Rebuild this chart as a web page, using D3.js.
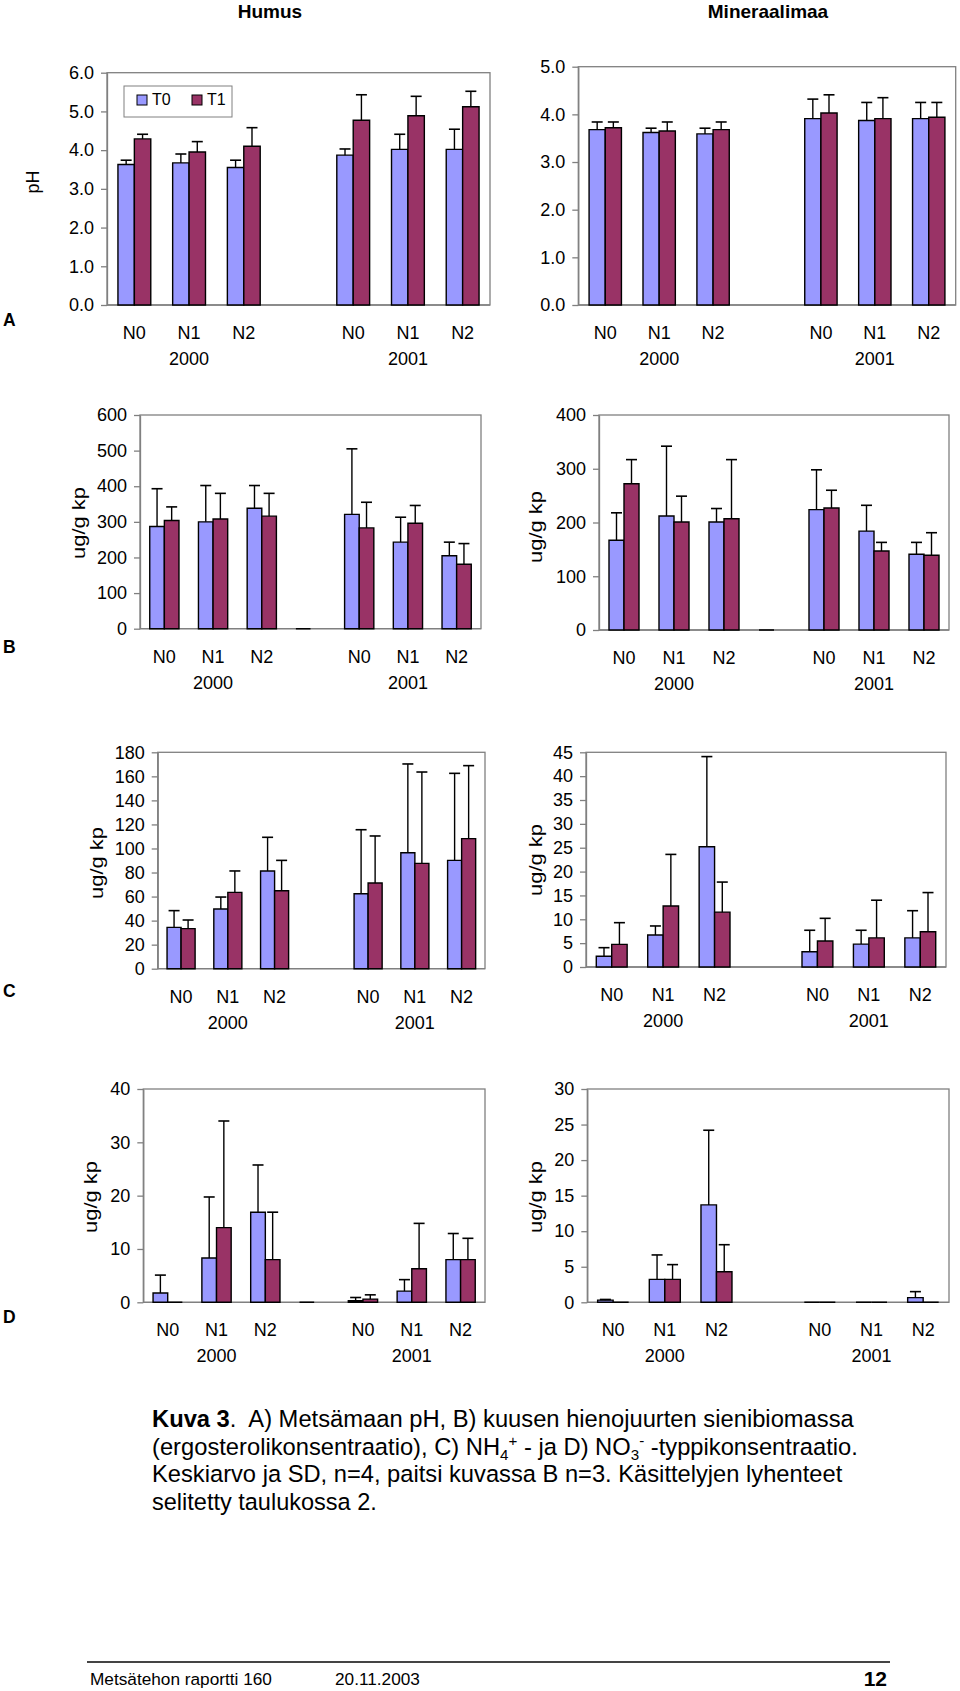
<!DOCTYPE html>
<html>
<head>
<meta charset="utf-8">
<script src="https://cdn.jsdelivr.net/npm/d3@7"></script>
<style>
  html, body { margin: 0; padding: 0; background: #fff; }
  svg { display: block; font-family: "Liberation Sans", Arial, Helvetica, sans-serif; }
  text { white-space: pre; }
</style>
</head>
<body>
<svg id="chart" width="960" height="1691"></svg>
<script>
// ---------------- DATA ----------------
const categories = ["N0", "N1", "N2", "", "N0", "N1", "N2"];
const yearLabels = ["2000", "2001"];
const yearCategoryIndex = [1, 5];
const seriesNames = ["T0", "T1"];

// A) pH - Humus
const phHumusT0   = [3.63, 3.67, 3.55, null, 3.87, 4.02, 4.02];
const phHumusT0sd = [0.11, 0.23, 0.19, null, 0.16, 0.39, 0.52];
const phHumusT1   = [4.29, 3.95, 4.10, null, 4.77, 4.89, 5.12];
const phHumusT1sd = [0.12, 0.27, 0.48, null, 0.66, 0.50, 0.40];
// A) pH - Mineraalimaa
const phMinT0   = [3.68, 3.62, 3.59, null, 3.91, 3.87, 3.91];
const phMinT0sd = [0.16, 0.09, 0.12, null, 0.41, 0.38, 0.34];
const phMinT1   = [3.72, 3.65, 3.68, null, 4.03, 3.91, 3.94];
const phMinT1sd = [0.12, 0.19, 0.16, null, 0.38, 0.44, 0.31];
// B) ergosterol - Humus
const ergHumusT0   = [287, 300, 338, 0, 321, 243, 205];
const ergHumusT0sd = [106, 102, 64, null, 184, 70, 38];
const ergHumusT1   = [304, 308, 316, null, 283, 296, 181];
const ergHumusT1sd = [38, 72, 64, null, 72, 50, 58];
// B) ergosterol - Mineraalimaa
const ergMinT0   = [167, 212, 201, 0, 224, 184, 141];
const ergMinT0sd = [51, 130, 25, null, 74, 48, 22];
const ergMinT1   = [272, 201, 207, null, 227, 147, 139];
const ergMinT1sd = [45, 48, 110, null, 33, 16, 42];
// C) NH4 - Humus
const nh4HumusT0   = [34.4, 49.6, 81.3, null, 62.4, 96.5, 90.1];
const nh4HumusT0sd = [13.9, 10.0, 28.0, null, 53.2, 73.8, 72.4];
const nh4HumusT1   = [33.3, 63.5, 64.9, null, 71.3, 87.6, 108.2];
const nh4HumusT1sd = [7.2, 17.8, 25.2, null, 39.1, 76.0, 60.7];
// C) NH4 - Mineraalimaa
const nh4MinT0   = [2.24, 6.71, 25.2, null, 3.2, 4.8, 6.1];
const nh4MinT0sd = [1.81, 1.89, 18.9, null, 4.5, 2.9, 5.7];
const nh4MinT1   = [4.75, 12.8, 11.5, null, 5.45, 6.1, 7.4];
const nh4MinT1sd = [4.54, 10.8, 6.3, null, 4.75, 7.9, 8.2];
// D) NO3 - Humus
const no3HumusT0   = [1.75, 8.3, 16.9, 0, 0.3, 2.1, 8.0];
const no3HumusT0sd = [3.35, 11.45, 8.85, null, 0.6, 2.15, 4.9];
const no3HumusT1   = [0, 14.0, 8.0, null, 0.6, 6.3, 8.0];
const no3HumusT1sd = [null, 20.0, 8.9, null, 0.8, 8.5, 4.0];
// D) NO3 - Mineraalimaa
const no3MinT0   = [0.3, 3.23, 13.7, null, 0, 0, 0.66];
const no3MinT0sd = [0.1, 3.43, 10.5, null, null, null, 0.84];
const no3MinT1   = [0, 3.23, 4.3, null, 0, 0, 0];
const no3MinT1sd = [null, 2.07, 3.8, null, null, null, null];

// y-axis ranges / tick steps
const yMaxes = { phHumus: 6, phMin: 5, ergHumus: 600, ergMin: 400, nh4Humus: 180, nh4Min: 45, no3Humus: 40, no3Min: 30 };
const yStep  = { phHumus: 1, phMin: 1, ergHumus: 100, ergMin: 100, nh4Humus: 20, nh4Min: 5, no3Humus: 10, no3Min: 5 };

const columnTitles = ["Humus", "Mineraalimaa"];
const rowLetters = ["A", "B", "C", "D"];
const yTitles = { ph: "pH", conc: "ug/g kp" };

// ---------------- LAYOUT ----------------
const COL_T0 = "#9999FF", COL_T1 = "#993366", FRAME = "#808080";
const FONT = '"Liberation Sans", Arial, Helvetica, sans-serif';

const panels = [
  { key: "phHumus",  t0: phHumusT0,  t0sd: phHumusT0sd,  t1: phHumusT1,  t1sd: phHumusT1sd,  x0: 107,   x1: 490,   y0: 72.7,   y1: 305,    fmt: ".1f", ytitle: yTitles.ph,   tx: 33, ty: 182, tw: 23, legend: true },
  { key: "phMin",    t0: phMinT0,    t0sd: phMinT0sd,    t1: phMinT1,    t1sd: phMinT1sd,    x0: 578.3, x1: 955.7, y0: 66.7,   y1: 305,    fmt: ".1f", ytitle: null },
  { key: "ergHumus", t0: ergHumusT0, t0sd: ergHumusT0sd, t1: ergHumusT1, t1sd: ergHumusT1sd, x0: 140,   x1: 481,   y0: 415,    y1: 628.7,  fmt: "d",   ytitle: yTitles.conc, tx: 79, ty: 523, tw: 72 },
  { key: "ergMin",   t0: ergMinT0,   t0sd: ergMinT0sd,   t1: ergMinT1,   t1sd: ergMinT1sd,   x0: 599,   x1: 949,   y0: 415,    y1: 630,    fmt: "d",   ytitle: yTitles.conc, tx: 536, ty: 527, tw: 72 },
  { key: "nh4Humus", t0: nh4HumusT0, t0sd: nh4HumusT0sd, t1: nh4HumusT1, t1sd: nh4HumusT1sd, x0: 157.7, x1: 485,   y0: 752.3,  y1: 968.7,  fmt: "d",   ytitle: yTitles.conc, tx: 97, ty: 863, tw: 72 },
  { key: "nh4Min",   t0: nh4MinT0,   t0sd: nh4MinT0sd,   t1: nh4MinT1,   t1sd: nh4MinT1sd,   x0: 586,   x1: 946,   y0: 752.3,  y1: 967,    fmt: "d",   ytitle: yTitles.conc, tx: 536, ty: 860, tw: 72 },
  { key: "no3Humus", t0: no3HumusT0, t0sd: no3HumusT0sd, t1: no3HumusT1, t1sd: no3HumusT1sd, x0: 143.3, x1: 485,   y0: 1089,   y1: 1302.3, fmt: "d",   ytitle: yTitles.conc, tx: 91, ty: 1197, tw: 72 },
  { key: "no3Min",   t0: no3MinT0,   t0sd: no3MinT0sd,   t1: no3MinT1,   t1sd: no3MinT1sd,   x0: 587.3, x1: 949,   y0: 1089,   y1: 1302.3, fmt: "d",   ytitle: yTitles.conc, tx: 536, ty: 1197, tw: 72 }
];

const svg = d3.select("#chart");
svg.append("rect").attr("width", 960).attr("height", 1691).attr("fill", "#fff");

function fitX(sel, target) {
  const w = sel.node().getBBox().width;
  return w > 0 ? target / w : 1;
}

// column titles
svg.append("text").attr("x", 270).attr("y", 17.5).attr("text-anchor", "middle")
  .attr("font-size", 19).attr("font-weight", "bold").text(columnTitles[0]);
svg.append("text").attr("x", 768).attr("y", 17.5).attr("text-anchor", "middle")
  .attr("font-size", 19).attr("font-weight", "bold").text(columnTitles[1]);

// row letters
const letterY = [326, 652.5, 996.5, 1323];
rowLetters.forEach((l, i) => {
  svg.append("text").attr("x", 3).attr("y", letterY[i]).attr("font-size", 17.5)
    .attr("font-weight", "bold").text(l);
});

panels.forEach(p => {
  const g = svg.append("g");
  const x = d3.scaleBand().domain(d3.range(categories.length)).range([p.x0, p.x1]).padding(0);
  const bw = x.bandwidth();
  const xs = d3.scaleBand().domain(seriesNames).range([0.2 * bw, 0.8 * bw]).padding(0);
  const y = d3.scaleLinear().domain([0, yMaxes[p.key]]).range([p.y1, p.y0]);

  // frame
  g.append("rect").attr("x", p.x0).attr("y", p.y0).attr("width", p.x1 - p.x0).attr("height", p.y1 - p.y0)
    .attr("fill", "none").attr("stroke", FRAME).attr("stroke-width", 1.3);

  // y axis
  const ticks = d3.range(0, yMaxes[p.key] + yStep[p.key] / 2, yStep[p.key]);
  const ax = g.append("g").attr("transform", `translate(${p.x0},0)`)
    .call(d3.axisLeft(y).tickValues(ticks).tickFormat(d3.format(p.fmt)).tickSize(6).tickSizeOuter(0).tickPadding(7));
  ax.select(".domain").attr("stroke", FRAME).attr("stroke-width", 1.3);
  ax.selectAll(".tick line").attr("stroke", FRAME).attr("stroke-width", 1.3);
  ax.selectAll(".tick text").attr("font-size", 18).attr("font-family", FONT).attr("fill", "#000");

  // x axis (bottom line + labels)
  g.append("line").attr("x1", p.x0).attr("x2", p.x1).attr("y1", y(0)).attr("y2", y(0))
    .attr("stroke", FRAME).attr("stroke-width", 1.3);
  categories.forEach((c, i) => {
    if (!c) return;
    g.append("text").attr("x", x(i) + bw / 2).attr("y", p.y1 + 34).attr("text-anchor", "middle")
      .attr("font-size", 18).text(c);
  });
  yearLabels.forEach((yl, k) => {
    const i = yearCategoryIndex[k];
    g.append("text").attr("x", x(i) + bw / 2).attr("y", p.y1 + 60).attr("text-anchor", "middle")
      .attr("font-size", 18).text(yl);
  });

  // bars
  const sets = [
    { name: "T0", vals: p.t0, sds: p.t0sd, color: COL_T0 },
    { name: "T1", vals: p.t1, sds: p.t1sd, color: COL_T1 }
  ];
  sets.forEach(s => {
    s.vals.forEach((v, i) => {
      if (v === null || v === undefined) return;
      const bx = x(i) + xs(s.name), w = xs.bandwidth();
      const top = y(v), base = y(0);
      g.append("path")
        .attr("d", `M${bx},${base}V${top}H${bx + w}V${base}Z`)
        .attr("fill", s.color).attr("stroke", "#000").attr("stroke-width", 1.4);
    });
  });
  // error bars
  sets.forEach(s => {
    s.vals.forEach((v, i) => {
      const sd = s.sds[i];
      if (v === null || sd === null || sd === undefined) return;
      const cx = x(i) + xs(s.name) + xs.bandwidth() / 2;
      const yt = y(v + sd);
      g.append("line").attr("x1", cx).attr("x2", cx).attr("y1", y(v)).attr("y2", yt)
        .attr("stroke", "#000").attr("stroke-width", 1.4);
      g.append("line").attr("x1", cx - 5.5).attr("x2", cx + 5.5).attr("y1", yt).attr("y2", yt)
        .attr("stroke", "#000").attr("stroke-width", 1.6);
    });
  });

  // y title
  if (p.ytitle) {
    const t = g.append("text").attr("text-anchor", "middle").attr("dy", "0.35em")
      .attr("font-size", 18).text(p.ytitle);
    const sx = fitX(t, p.tw);
    t.attr("transform", `translate(${p.tx},${p.ty}) rotate(-90) scale(${sx},1)`);
  }

  // legend
  if (p.legend) {
    const lg = g.append("g");
    lg.append("rect").attr("x", 124).attr("y", 86).attr("width", 108).attr("height", 31)
      .attr("fill", "#fff").attr("stroke", FRAME).attr("stroke-width", 1);
    seriesNames.forEach((n, k) => {
      const sx = [137, 192][k];
      lg.append("rect").attr("x", sx).attr("y", 95).attr("width", 10).attr("height", 10)
        .attr("fill", k === 0 ? COL_T0 : COL_T1).attr("stroke", "#000").attr("stroke-width", 1);
      lg.append("text").attr("x", sx + 15).attr("y", 104.5).attr("font-size", 16).text(n);
    });
  }
});

// ---------------- CAPTION ----------------
const capX = 152;
const capBase = [1427, 1454.5, 1482, 1509.5];
const capW = [703, 706, 691, 225];
const capFont = 23.5;

function captionLine(i, build) {
  const t = svg.append("text").attr("x", 0).attr("y", 0).attr("font-size", capFont);
  build(t);
  const sx = fitX(t, capW[i]);
  t.attr("transform", `translate(${capX},${capBase[i]}) scale(${sx},1)`);
}
captionLine(0, t => {
  t.append("tspan").attr("font-weight", "bold").text("Kuva 3");
  t.append("tspan").text(".  A) Metsämaan pH, B) kuusen hienojuurten sienibiomassa");
});
captionLine(1, t => {
  t.append("tspan").text("(ergosterolikonsentraatio), C) NH");
  t.append("tspan").attr("font-size", 15).attr("dy", 5).text("4");
  t.append("tspan").attr("font-size", 15).attr("dy", -14).text("+");
  t.append("tspan").attr("dy", 9).text(" - ja D) NO");
  t.append("tspan").attr("font-size", 15).attr("dy", 5).text("3");
  t.append("tspan").attr("font-size", 15).attr("dy", -14).text("-");
  t.append("tspan").attr("dy", 9).text(" -typpikonsentraatio.");
});
captionLine(2, t => {
  t.append("tspan").text("Keskiarvo ja SD, n=4, paitsi kuvassa B n=3. Käsittelyjen lyhenteet");
});
captionLine(3, t => {
  t.append("tspan").text("selitetty taulukossa 2.");
});

// ---------------- FOOTER ----------------
svg.append("rect").attr("x", 87).attr("y", 1661).attr("width", 803).attr("height", 2)
  .attr("fill", "#444");
const f1 = svg.append("text").attr("font-size", 17).text("Metsätehon raportti 160");
f1.attr("transform", `translate(90,1685) scale(${fitX(f1, 182)},1)`);
const f2 = svg.append("text").attr("font-size", 17).text("20.11.2003");
f2.attr("transform", `translate(335,1685) scale(${fitX(f2, 85)},1)`);
svg.append("text").attr("x", 887).attr("y", 1686).attr("text-anchor", "end")
  .attr("font-size", 21).attr("font-weight", "bold").text("12");
</script>
</body>
</html>
